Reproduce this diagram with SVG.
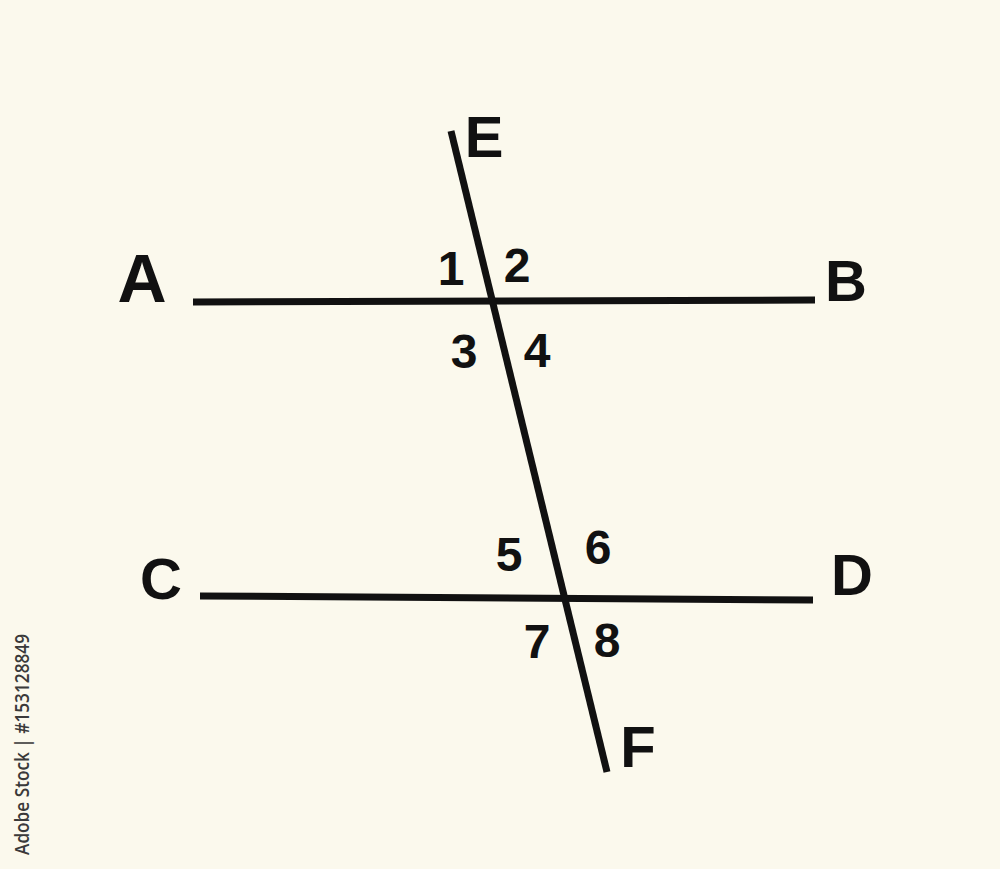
<svg xmlns="http://www.w3.org/2000/svg" width="1000" height="869" viewBox="0 0 1000 869">
<style>
.ln{stroke:#111;stroke-width:7;stroke-linecap:butt;fill:none}
.lb{font-family:"Liberation Sans",Arial,sans-serif;font-weight:bold;fill:#111;text-anchor:middle;dominant-baseline:central}
.big{font-size:58px}
.num{font-size:48px}
.wm{font-family:"Open Sans","Liberation Sans",Arial,sans-serif;font-weight:600;font-size:19px;fill:#3a3a3a}
</style>
<rect width="1000" height="869" fill="#fbf9ed"/>
<g id="connectors">
<line class="ln" x1="193" y1="302" x2="815" y2="300"/>
<line class="ln" x1="200" y1="596" x2="813" y2="600"/>
<line class="ln" x1="451" y1="131" x2="607" y2="772"/>
</g>
<g id="A"><text class="lb big" x="142" y="278" style="font-size:68px">A</text></g>
<g id="B"><text class="lb big" x="846" y="280">B</text></g>
<g id="C"><text class="lb big" x="161" y="578">C</text></g>
<g id="D"><text class="lb big" x="852" y="574">D</text></g>
<g id="E"><text class="lb big" x="484" y="136">E</text></g>
<g id="F"><text class="lb big" x="638" y="746">F</text></g>
<g id="n1"><text class="lb num" x="451" y="268">1</text></g>
<g id="n2"><text class="lb num" x="517" y="265">2</text></g>
<g id="n3"><text class="lb num" x="464" y="351">3</text></g>
<g id="n4"><text class="lb num" x="537" y="350">4</text></g>
<g id="n5"><text class="lb num" x="509" y="554">5</text></g>
<g id="n6"><text class="lb num" x="598" y="547">6</text></g>
<g id="n7"><text class="lb num" x="537" y="641">7</text></g>
<g id="n8"><text class="lb num" x="607" y="640">8</text></g>
<g id="watermark"><text class="wm" transform="translate(29,855) rotate(-90)" textLength="221" lengthAdjust="spacingAndGlyphs">Adobe Stock | #153128849</text></g>
</svg>
